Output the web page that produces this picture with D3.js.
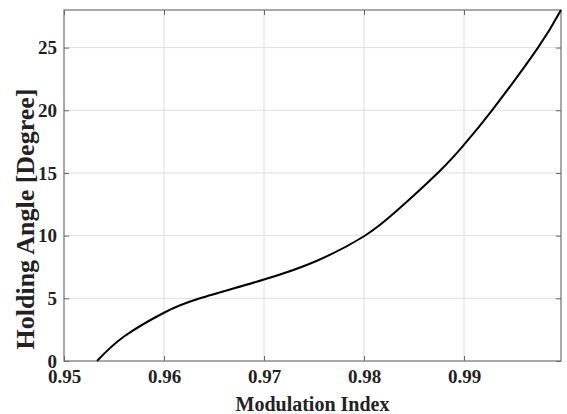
<!DOCTYPE html>
<html>
<head>
<meta charset="utf-8">
<script src="https://cdn.jsdelivr.net/npm/d3@7"></script>
<style>
body { margin: 0; background: #fff; }
text { font-family: "Liberation Serif", "Times New Roman", serif; font-weight: bold; fill: #222; }
</style>
</head>
<body>
<svg id="svg"></svg>
<script>
// curve
var modIndex = [0.9533, 0.956, 0.96, 0.9636, 0.97, 0.9753, 0.98, 0.9833, 0.9875, 0.99, 0.9928, 0.9974, 0.9997];
var holdAngle = [0, 1.95, 3.85, 5, 6.5, 8.0, 9.95, 12.0, 15.1, 17.25, 20, 25, 28];
var xTicks = [0.95, 0.96, 0.97, 0.98, 0.99];
var yTicks = [0, 5, 10, 15, 20, 25];

var width = 567, height = 414;
var margin = {left: 64, right: 6, top: 10, bottom: 53};
var x1 = margin.left, x2 = width - margin.right,
    y1 = margin.top, y2 = height - margin.bottom;

var svg = d3.select("#svg").attr("width", width).attr("height", height);

var x = d3.scaleLinear().domain([0.95, 0.9997]).range([x1, x2]);
var y = d3.scaleLinear().domain([0, 28]).range([y2, y1]);

// grid
svg.append("g").selectAll("line").data(xTicks.slice(1)).enter().append("line")
    .attr("x1", function(d) { return x(d); }).attr("x2", function(d) { return x(d); })
    .attr("y1", y1).attr("y2", y2)
    .attr("stroke", "#dedede").attr("stroke-width", 1);
svg.append("g").selectAll("line").data(yTicks.slice(1)).enter().append("line")
    .attr("y1", function(d) { return y(d); }).attr("y2", function(d) { return y(d); })
    .attr("x1", x1).attr("x2", x2)
    .attr("stroke", "#dedede").attr("stroke-width", 1);

// axes, ticks inward like matlab
var tl = 5;
svg.append("g").attr("transform", "translate(0," + y2 + ")")
    .call(d3.axisBottom(x).tickValues(xTicks).tickSize(-tl).tickPadding(9).tickFormat(d3.format(".2f")))
    .call(function(g) { g.select(".domain").remove(); });
svg.append("g").attr("transform", "translate(0," + y1 + ")")
    .call(d3.axisTop(x).tickValues(xTicks).tickSize(-tl).tickFormat(""))
    .call(function(g) { g.select(".domain").remove(); });
svg.append("g").attr("transform", "translate(" + x1 + ",0)")
    .call(d3.axisLeft(y).tickValues(yTicks).tickSize(-tl).tickPadding(7))
    .call(function(g) { g.select(".domain").remove(); });
svg.append("g").attr("transform", "translate(" + x2 + ",0)")
    .call(d3.axisRight(y).tickValues(yTicks).tickSize(-tl).tickFormat(""))
    .call(function(g) { g.select(".domain").remove(); });

svg.selectAll(".tick line").attr("stroke", "#666");
svg.selectAll(".tick text").attr("font-size", 19).attr("fill", "#222")
    .attr("font-family", "Liberation Serif").attr("font-weight", "bold");

svg.append("rect").attr("x", x1).attr("y", y1)
    .attr("width", x2 - x1).attr("height", y2 - y1)
    .attr("fill", "none").attr("stroke", "#707070").attr("stroke-width", 1.2);

// curve
var line = d3.line()
    .x(function(d, i) { return x(modIndex[i]); })
    .y(function(d) { return y(d); })
    .curve(d3.curveNatural);
svg.append("path").datum(holdAngle)
    .attr("d", line).attr("fill", "none")
    .attr("stroke", "#000").attr("stroke-width", 2);

// labels
svg.append("text").attr("x", (x1 + x2) / 2).attr("y", 411)
    .attr("text-anchor", "middle").attr("font-size", 20)
    .text("Modulation Index");
svg.append("text").attr("transform", "translate(34,219) rotate(-90)")
    .attr("text-anchor", "middle").attr("font-size", 26)
    .text("Holding Angle [Degree]");
</script>
</body>
</html>
